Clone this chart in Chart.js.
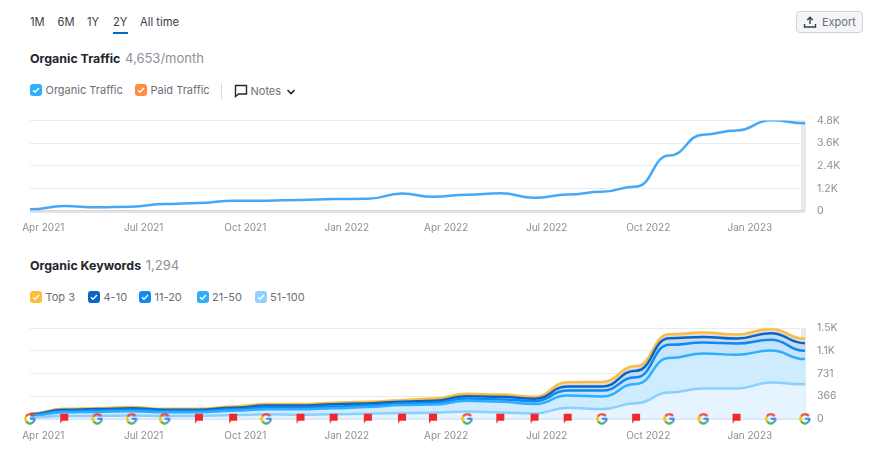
<!DOCTYPE html>
<html>
<head>
<meta charset="utf-8">
<script src="https://cdn.jsdelivr.net/npm/chart.js@4"></script>
<style>
	html, body { margin: 0; padding: 0; background: #fff; }
	body { width: 876px; height: 458px; position: relative; overflow: hidden; font-family: Inter, sans-serif; color: #333; }
	canvas { position: absolute; left: 0; }
	.t { position: absolute; white-space: nowrap; line-height: 16px; }
	.range { font-size: 11.2px; color: #3a3f4a; }
	.title { font-size: 12.4px; font-weight: 700; color: #23262e; }
	.title span { font-size: 13px; font-weight: 400; color: #8b8f9a; margin-left: 1px; }
	.item { font-size: 11px; color: #6c6e79; }
	.box { position: absolute; width: 12px; height: 12px; border-radius: 3px; }
	.box svg { position: absolute; left: 2px; top: 2px; }
	#underline { position: absolute; left: 113px; top: 32px; width: 15px; height: 2px; background: #006dca; }
	#sep { position: absolute; left: 221px; top: 83px; width: 1px; height: 16px; background: #d9dbe0; }
	#export { position: absolute; left: 796px; top: 11px; width: 65px; height: 20px; border: 1px solid #cfd2d9; border-radius: 4px; background: #f4f5f9; }
</style>
</head>
<body>
<div id="labels"></div>
<div id="underline"></div>
<div id="sep"></div>
<div id="export">
	<svg width="14" height="14" viewBox="0 0 14 14" style="position:absolute;left:6px;top:3px"><path d="M7 9V2.5M4.3 5L7 2.2 9.7 5M1.5 9v3h11V9" fill="none" stroke="#3a3f4a" stroke-width="1.4"/></svg>
	<span class="t" style="left:25px;top:2px;font-size:11px;color:#6c6e79">Export</span>
</div>
<svg width="14" height="14" viewBox="0 0 14 14" style="position:absolute;left:234px;top:84px"><path d="M1.5 1.5h11v8.5H4.5L1.5 12.5z" fill="none" stroke="#23262e" stroke-width="1.4"/></svg>
<svg width="10" height="8" viewBox="0 0 10 8" style="position:absolute;left:286px;top:88px"><path d="M1.5 2l3.5 3.5L8.5 2" fill="none" stroke="#23262e" stroke-width="1.6"/></svg>
<canvas id="traffic" width="876" height="145" style="top:100px"></canvas>
<canvas id="keywords" width="876" height="135" style="top:310px"></canvas>
<script>
// one point a month
const months = ['2021-03-20', '2021-04-20', '2021-05-20', '2021-06-20', '2021-07-20', '2021-08-20', '2021-09-20', '2021-10-20',
	'2021-11-20', '2021-12-20', '2022-01-20', '2022-02-20', '2022-03-20', '2022-04-20', '2022-05-20', '2022-06-20',
	'2022-07-20', '2022-08-20', '2022-09-20', '2022-10-20', '2022-11-20', '2022-12-20', '2023-01-20', '2023-02-20'];

const tickMonths = ['2021-04-01', '2021-07-01', '2021-10-01', '2022-01-01', '2022-04-01', '2022-07-01', '2022-10-01', '2023-01-01'];
const tickLabels = ['Apr 2021', 'Jul 2021', 'Oct 2021', 'Jan 2022', 'Apr 2022', 'Jul 2022', 'Oct 2022', 'Jan 2023'];

const organicTraffic = [90, 265, 195, 230, 370, 425, 550, 550, 585, 635, 650, 930, 750, 860, 945, 700, 875, 1015, 1300, 2950, 4050, 4270, 4810, 4653];
const paidTraffic = [5, 5, 5, 5, 5, 5, 5, 5, 5, 5, 5, 5, 5, 5, 5, 5, 5, 5, 5, 5, 5, 5, 5, 5];
const trafficTicks = ['0', '1.2K', '2.4K', '3.6K', '4.8K'];

const kw51to100 = [18, 42, 46, 50, 44, 42, 58, 72, 62, 70, 82, 91, 96, 118, 102, 86, 177, 155, 252, 423, 488, 488, 584, 557];
const kw21to50 = [26, 62, 64, 72, 60, 62, 70, 80, 90, 100, 106, 129, 134, 171, 171, 150, 198, 204, 311, 558, 568, 546, 520, 408];
const kw11to20 = [14, 20, 22, 24, 20, 20, 24, 30, 30, 28, 27, 27, 27, 38, 38, 48, 80, 96, 107, 214, 177, 183, 172, 134];
const kw4to10 = [14, 22, 23, 24, 22, 22, 26, 30, 30, 34, 33, 26, 32, 37, 43, 38, 65, 65, 107, 107, 91, 80, 107, 123];
const kwTop3 = [14, 14, 16, 18, 14, 14, 20, 24, 24, 25, 25, 27, 38, 38, 37, 32, 70, 75, 75, 65, 70, 64, 70, 72];
const keywordTicks = ['0', '366', '731', '1.1K', '1.5K'];

// G = google update, F = red note flag
const noteKinds = ['G', 'F', 'G', 'G', 'G', 'F', 'F', 'G', 'F', 'F', 'F', 'F', 'F', 'G', 'F', 'F', 'F', 'G', 'F', 'G', 'G', 'F', 'G', 'G'];

const rangeItems = [['1M', 30], ['6M', 57.5], ['1Y', 87], ['2Y', 113], ['All time', 140]];
const trafficLegend = [['Organic Traffic', '#2eaeff', 30], ['Paid Traffic', '#ff8c43', 135]];
const keywordLegend = [['Top 3', '#ffbb3c', 30], ['4-10', '#0a66c2', 88], ['11-20', '#0d8bf2', 139], ['21-50', '#2eaeff', 196.5], ['51-100', '#90d0ff', 254.5]];

function ms(day) {
	return Date.parse(day + 'T00:00:00Z');
}

function points(values) {
	return values.map((v, i) => ({ x: ms(months[i]), y: v }));
}

function addText(cls, left, top, html) {
	var el = document.createElement('div');
	el.className = 't ' + cls;
	el.style.left = left + 'px';
	el.style.top = top + 'px';
	el.innerHTML = html;
	document.getElementById('labels').appendChild(el);
}

function addLegend(items, top) {
	var holder = document.getElementById('labels');
	for (let [name, color, left] of items) {
		var box = document.createElement('div');
		box.className = 'box';
		box.style.left = left + 'px';
		box.style.top = top + 'px';
		box.style.background = color;
		box.innerHTML = '<svg width="8" height="8" viewBox="0 0 8 8"><path d="M1 4.2l2 2 4-4.2" fill="none" stroke="#fff" stroke-width="1.5"/></svg>';
		holder.appendChild(box);
		addText('item', left + 15.5, top - 2, name);
	}
}

for (let [name, left] of rangeItems) addText('range', left, 14, name);
addText('title', 30, 50, 'Organic Traffic<span> 4,653/month</span>');
addText('title', 30, 257, 'Organic Keywords<span> 1,294</span>');
addLegend(trafficLegend, 84);
addText('item', 250.5, 83, 'Notes');
addLegend(keywordLegend, 291);

function googleIcon() {
	var c = document.createElement('canvas');
	c.width = 12; c.height = 12;
	var g = c.getContext('2d');
	g.lineWidth = 2.2;
	var arcs = [['#ea4335', -2.6, -0.6], ['#fbbc05', 2.5, 3.7], ['#34a853', 0.8, 2.5], ['#4285f4', -0.1, 0.8]];
	for (let [color, from, to] of arcs) {
		g.strokeStyle = color;
		g.beginPath();
		g.arc(6, 6, 4.6, from, to);
		g.stroke();
	}
	g.fillStyle = '#4285f4';
	g.fillRect(6, 5, 5, 2);
	return c;
}

function flagIcon() {
	var c = document.createElement('canvas');
	c.width = 10; c.height = 12;
	var g = c.getContext('2d');
	g.fillStyle = '#f0282d';
	g.beginPath();
	g.moveTo(1, 1);
	g.lineTo(9, 1);
	g.lineTo(9, 8);
	g.lineTo(3, 8);
	g.lineTo(1, 11);
	g.closePath();
	g.fill();
	return c;
}

const google = googleIcon();
const flag = flagIcon();

// the grey hover band at the last point
const bandPlugin = {
	id: 'band',
	beforeDatasetsDraw(chart) {
		var area = chart.chartArea;
		var ctx = chart.ctx;
		ctx.save();
		ctx.fillStyle = '#e4eaee';
		ctx.fillRect(area.right - 4, area.top, 5, area.bottom - area.top);
		ctx.restore();
	}
};

// the original curve goes flat at every month, so make the bezier handles horizontal
const flatHandles = {
	id: 'flatHandles',
	afterDatasetsUpdate(chart) {
		chart.getSortedVisibleDatasetMetas().forEach((meta) => {
			if (!meta.dataset || !meta.dataset.options.cubicInterpolationMode) return;
			if (meta.dataset.options.cubicInterpolationMode !== 'monotone') return;
			meta.dataset.updateControlPoints(chart.chartArea);
			var pts = meta.data;
			for (let i = 0; i < pts.length; i++) {
				var p = pts[i];
				var before = i > 0 ? p.x - pts[i - 1].x : 0;
				var after = i < pts.length - 1 ? pts[i + 1].x - p.x : 0;
				p.cp1x = p.x - before * 0.5;
				p.cp1y = p.y;
				p.cp2x = p.x + after * 0.5;
				p.cp2y = p.y;
			}
		});
	}
};

function options(yMax, yStep, yTicks, top, axisHeight) {
	return {
		responsive: false,
		animation: false,
		layout: { padding: { left: 30, top: top, right: 0, bottom: 0 } },
		plugins: { legend: { display: false }, tooltip: { enabled: false } },
		scales: {
			x: {
				type: 'linear',
				min: ms(months[0]),
				max: ms(months[months.length - 1]),
				afterBuildTicks: (scale) => { scale.ticks = tickMonths.map((d) => ({ value: ms(d) })); },
				afterFit: (scale) => { scale.height = axisHeight; },
				grid: { display: false, drawTicks: false },
				border: { display: false },
				ticks: {
					autoSkip: false,
					maxRotation: 0,
					padding: 11,
					color: '#8b8f9a',
					font: { family: 'Inter', size: 10 },
					callback: (v) => tickLabels[tickMonths.findIndex((d) => ms(d) === v)]
				}
			},
			y: {
				position: 'right',
				stacked: true,
				min: 0,
				max: yMax,
				afterFit: (scale) => { scale.width = 71; },
				grid: {
					drawTicks: false,
					color: (c) => (c.index === 0 ? '#dce6f1' : '#e9ebf2'),
					lineWidth: (c) => (c.index === 0 ? 3 : 1)
				},
				border: { display: false },
				ticks: {
					stepSize: yStep,
					padding: 12,
					color: '#8b8f9a',
					font: { family: 'Inter', size: 10.5 },
					callback: (v, i) => yTicks[i]
				}
			}
		}
	};
}

function lineSet(values, color, fill, width) {
	return {
		data: points(values),
		borderColor: color,
		backgroundColor: fill,
		fill: false,
		borderWidth: width,
		pointRadius: 0,
		cubicInterpolationMode: 'monotone'
	};
}

new Chart(document.getElementById('traffic'), {
	type: 'line',
	data: {
		datasets: [
			Object.assign(lineSet(organicTraffic, '#46a8f5', null, 2.5), { stack: 'organic' }),
			Object.assign(lineSet(paidTraffic, '#f7cdb4', null, 2), { stack: 'paid' })
		]
	},
	options: options(4800, 1200, trafficTicks, 20.5, 34),
	plugins: [bandPlugin, flatHandles]
});

var kwSets = [
	lineSet(kw51to100, '#8ccfff', '#e6f4ff', 2.5),
	lineSet(kw21to50, '#2eaeff', '#cfecff', 2.5),
	lineSet(kw11to20, '#0d8bf2', '#c6e4fb', 2.5),
	lineSet(kw4to10, '#0a66c2', '#c5dcf2', 2.5),
	lineSet(kwTop3, '#ffbb3c', '#d9e0e8', 2.5)
];
kwSets[0].fill = 'origin';
for (let i = 1; i < kwSets.length; i++) kwSets[i].fill = '-1';
kwSets.push({
	data: noteKinds.map((k, i) => ({ x: ms(months[i]), y: 0 })),
	stack: 'notes',
	order: -1,
	showLine: false,
	clip: false,
	pointRadius: 6,
	pointStyle: noteKinds.map((k) => (k === 'G' ? google : flag))
});

new Chart(document.getElementById('keywords'), {
	type: 'line',
	data: { datasets: kwSets },
	options: options(1463, 365.75, keywordTicks, 17.3, 26.3),
	plugins: [bandPlugin, flatHandles]
});
</script>
</body>
</html>
